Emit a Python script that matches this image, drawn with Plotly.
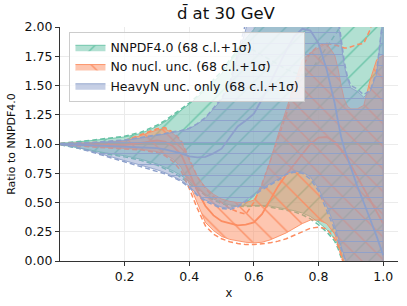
import plotly.graph_objects as go

# ---------------- data ----------------
X = [0.001, 0.05, 0.1, 0.15, 0.2, 0.25, 0.3, 0.325, 0.35, 0.375,
     0.4, 0.425, 0.45, 0.475, 0.5, 0.525, 0.55, 0.575, 0.6, 0.625,
     0.65, 0.675, 0.7, 0.725, 0.75, 0.775, 0.8, 0.825, 0.85, 0.86,
     0.87, 0.88, 0.89, 0.9, 0.92, 0.94, 0.96, 0.98, 1.0]

# NNPDF4.0 (reference)
NN_CV = [1.0] * 39
NN_UP = [1.005, 1.015, 1.03, 1.045, 1.06, 1.09, 1.15, 1.19, 1.24, 1.29,
         1.34, 1.40, 1.46, 1.53, 1.60, 1.70, 1.82, 1.90, 1.98, 2.10,
         2.25, 2.40, 2.60, 2.80, 3.00, 3.10, 3.20, 3.30, 3.40, 3.40,
         3.40, 3.40, 3.40, 3.40, 3.50, 3.60, 3.80, 4.00, 4.50]
NN_LO = [0.995, 0.97, 0.945, 0.92, 0.90, 0.87, 0.83, 0.80, 0.77, 0.73,
         0.68, 0.62, 0.57, 0.53, 0.50, 0.48, 0.47, 0.47, 0.475, 0.475,
         0.47, 0.46, 0.445, 0.43, 0.41, 0.38, 0.33, 0.27, 0.19, 0.14,
         0.08, 0.0, -0.1, -0.2, -0.4, -0.6, -0.8, -1.0, -1.5]
NN_S_UP = [1.006, 1.017, 1.033, 1.05, 1.066, 1.10, 1.16, 1.20, 1.25, 1.30,
           1.35, 1.41, 1.48, 1.55, 1.62, 1.72, 1.80, 1.82, 1.80, 1.76,
           1.72, 1.68, 1.64, 1.61, 1.59, 1.62, 1.72, 1.82, 1.92, 1.97,
           2.03, 2.10, 2.20, 2.30, 2.50, 2.70, 2.90, 3.10, 3.30]
NN_S_LO = [0.994, 0.965, 0.94, 0.912, 0.89, 0.86, 0.82, 0.79, 0.755, 0.715,
           0.665, 0.61, 0.56, 0.52, 0.49, 0.47, 0.465, 0.465, 0.47, 0.47,
           0.46, 0.45, 0.435, 0.42, 0.395, 0.36, 0.31, 0.25, 0.17, 0.11,
           0.04, -0.05, -0.15, -0.25, -0.45, -0.65, -0.85, -1.05, -1.55]

# No nucl. unc.
NO_CV = [1.0, 0.998, 0.995, 0.99, 0.99, 1.01, 1.03, 1.02, 0.98, 0.91,
         0.76, 0.60, 0.47, 0.39, 0.34, 0.32, 0.305, 0.31, 0.33, 0.40,
         0.52, 0.64, 0.74, 0.83, 0.92, 1.00, 1.055, 1.06, 1.02, 0.99,
         0.95, 0.91, 0.87, 0.82, 0.72, 0.62, 0.52, 0.42, 0.32]
NO_UP = [1.003, 1.005, 1.01, 1.015, 1.025, 1.07, 1.12, 1.13, 1.09, 1.02,
         0.86, 0.72, 0.63, 0.57, 0.53, 0.51, 0.50, 0.50, 0.52, 0.65,
         0.85, 1.08, 1.30, 1.52, 1.72, 1.78, 1.82, 1.86, 1.76, 1.65,
         1.50, 1.38, 1.32, 1.30, 1.30, 1.33, 1.55, 1.72, 1.76]
NO_LO = [0.997, 0.99, 0.98, 0.97, 0.96, 0.955, 0.935, 0.91, 0.87, 0.80,
         0.66, 0.50, 0.33, 0.26, 0.21, 0.185, 0.17, 0.16, 0.155, 0.16,
         0.18, 0.21, 0.24, 0.28, 0.32, 0.35, 0.35, 0.32, 0.23, 0.15,
         0.06, -0.05, -0.15, -0.25, -0.45, -0.65, -0.85, -1.05, -1.30]
NO_S_UP = [1.004, 1.006, 1.012, 1.02, 1.03, 1.08, 1.13, 1.14, 1.10, 1.03,
           0.88, 0.72, 0.62, 0.55, 0.50, 0.45, 0.42, 0.40, 0.50, 0.66,
           0.85, 1.05, 1.25, 1.48, 1.66, 1.78, 1.84, 1.86, 1.85, 1.84,
           1.83, 1.82, 1.82, 1.83, 1.85, 1.86, 1.98, 2.20, 2.40]
NO_S_LO = [0.996, 0.988, 0.975, 0.965, 0.955, 0.95, 0.925, 0.90, 0.85, 0.77,
           0.62, 0.45, 0.30, 0.23, 0.19, 0.165, 0.15, 0.14, 0.14, 0.145,
           0.155, 0.17, 0.19, 0.22, 0.25, 0.28, 0.29, 0.275, 0.19, 0.13,
           0.05, -0.05, -0.15, -0.25, -0.45, -0.65, -0.85, -1.05, -1.30]

# HeavyN unc. only
HN_CV = [1.0, 0.995, 0.99, 0.985, 0.98, 0.975, 0.965, 0.955, 0.94, 0.92,
         0.895, 0.885, 0.89, 0.92, 0.96, 1.06, 1.15, 1.20, 1.26, 1.38,
         1.52, 1.66, 1.80, 1.92, 1.985, 1.97, 1.86, 1.64, 1.35, 1.20,
         1.06, 0.96, 0.88, 0.80, 0.64, 0.50, 0.36, 0.21, 0.05]
HN_UP = [1.003, 1.005, 1.01, 1.02, 1.03, 1.05, 1.07, 1.085, 1.10, 1.11,
         1.13, 1.17, 1.22, 1.30, 1.38, 1.50, 1.75, 2.00, 2.30, 2.50,
         2.70, 2.80, 2.80, 2.80, 2.70, 2.60, 2.50, 2.40, 2.20, 2.05,
         1.85, 1.67, 1.55, 1.48, 1.45, 1.40, 1.45, 1.60, 2.10]
HN_LO = [0.997, 0.975, 0.94, 0.90, 0.86, 0.82, 0.78, 0.755, 0.725, 0.69,
         0.64, 0.57, 0.52, 0.49, 0.46, 0.45, 0.47, 0.52, 0.57, 0.62,
         0.66, 0.70, 0.745, 0.77, 0.76, 0.72, 0.62, 0.47, 0.30, 0.20,
         0.12, 0.04, -0.05, -0.20, -0.40, -0.60, -0.80, -1.00, -1.20]
HN_S_UP = [1.004, 1.007, 1.013, 1.024, 1.035, 1.055, 1.075, 1.09, 1.105, 1.115,
           1.135, 1.175, 1.225, 1.31, 1.39, 1.52, 1.78, 2.05, 2.35, 2.55,
           2.75, 2.85, 2.85, 2.85, 2.75, 2.65, 2.55, 2.45, 2.25, 2.10,
           1.90, 1.70, 1.57, 1.50, 1.47, 1.42, 1.46, 1.62, 2.10]
HN_S_LO = [0.996, 0.97, 0.93, 0.89, 0.85, 0.81, 0.77, 0.745, 0.715, 0.68,
           0.63, 0.56, 0.51, 0.48, 0.45, 0.44, 0.46, 0.51, 0.56, 0.61,
           0.65, 0.69, 0.74, 0.76, 0.75, 0.70, 0.60, 0.44, 0.27, 0.18,
           0.10, 0.03, -0.03, -0.20, -0.40, -0.60, -0.80, -1.00, -1.20]

LABELS = ["NNPDF4.0 (68 c.l.+1σ)", "No nucl. unc. (68 c.l.+1σ)",
          "HeavyN unc. only (68 c.l.+1σ)"]
X_TICKS = [0.2, 0.4, 0.6, 0.8, 1.0]
Y_TICKS = [0.0, 0.25, 0.5, 0.75, 1.0, 1.25, 1.5, 1.75, 2.0]
TITLE = "d\u0304 at 30 GeV"

# ---------------- styling ----------------
COLORS = ["#66c2a5", "#fc8d62", "#8da0cb"]
HATCH = ["/", "\\", "-"]
HSIZE = [16, 16, 11]
FONT = "DejaVu Sans"


def rgba(hx, a):
    hx = hx.lstrip("#")
    r, g, b = int(hx[0:2], 16), int(hx[2:4], 16), int(hx[4:6], 16)
    return f"rgba({r},{g},{b},{a})"


SETS = [
    (NN_CV, NN_UP, NN_LO, NN_S_UP, NN_S_LO),
    (NO_CV, NO_UP, NO_LO, NO_S_UP, NO_S_LO),
    (HN_CV, HN_UP, HN_LO, HN_S_UP, HN_S_LO),
]

fig = go.Figure()
for i, (cv, up, lo, sup, slo) in enumerate(SETS):
    c = COLORS[i]
    fig.add_trace(go.Scatter(
        x=X + X[::-1], y=up + lo[::-1], mode="lines", fill="toself",
        fillcolor=rgba(c, 0.5),
        fillpattern=dict(shape=HATCH[i], fgcolor=c, bgcolor=rgba(c, 0.5),
                         size=HSIZE[i], solidity=0.09, fgopacity=0.9),
        line=dict(color=c, width=0.9), name=LABELS[i],
        legendgroup=str(i), hoverinfo="skip"))
    fig.add_trace(go.Scatter(x=X, y=cv, mode="lines",
                             line=dict(color=c, width=1.8),
                             showlegend=False, legendgroup=str(i)))
    for s in (sup, slo):
        fig.add_trace(go.Scatter(x=X, y=s, mode="lines",
                                 line=dict(color=c, width=1.5, dash="5px,3px"),
                                 showlegend=False, legendgroup=str(i)))

axis_common = dict(showline=True, linecolor="#333333", linewidth=1.2,
                   ticks="outside", ticklen=4, tickcolor="#333333",
                   showgrid=True, gridcolor="#ebebeb", gridwidth=1,
                   zeroline=False, mirror=False,
                   tickfont=dict(family=FONT, size=12.5, color="#111"))

fig.update_xaxes(range=[0, 1.046], tickvals=X_TICKS,
                 ticktext=[f"{t:.1f}" for t in X_TICKS],
                 title=dict(text="x", font=dict(family=FONT, size=11.5, color="#111"),
                            standoff=5),
                 **axis_common)
fig.update_yaxes(range=[0, 2.0], tickvals=Y_TICKS,
                 ticktext=[f"{t:.2f}" for t in Y_TICKS],
                 title=dict(text="Ratio to NNPDF4.0",
                            font=dict(family=FONT, size=11, color="#111"),
                            standoff=6),
                 **axis_common)

fig.update_layout(
    width=407, height=306,
    margin=dict(l=60, r=9, t=27, b=45),
    paper_bgcolor="white", plot_bgcolor="white",
    font=dict(family=FONT, color="#111"),
    title=dict(text=TITLE, x=0.555, xanchor="center", y=0.958, yanchor="middle",
               font=dict(family=FONT, size=16.5, color="#111")),
    legend=dict(x=0.028, y=0.98, xanchor="left", yanchor="top",
                bgcolor="rgba(255,255,255,0.8)", bordercolor="#cccccc",
                borderwidth=1, font=dict(family=FONT, size=12.5, color="#111"),
                tracegroupgap=0, itemwidth=30),
    showlegend=True,
)

fig.write_html("out.html",
               config={"displayModeBar": False},
               post_script="document.body.style.margin='0';document.body.style.overflow='hidden';")
